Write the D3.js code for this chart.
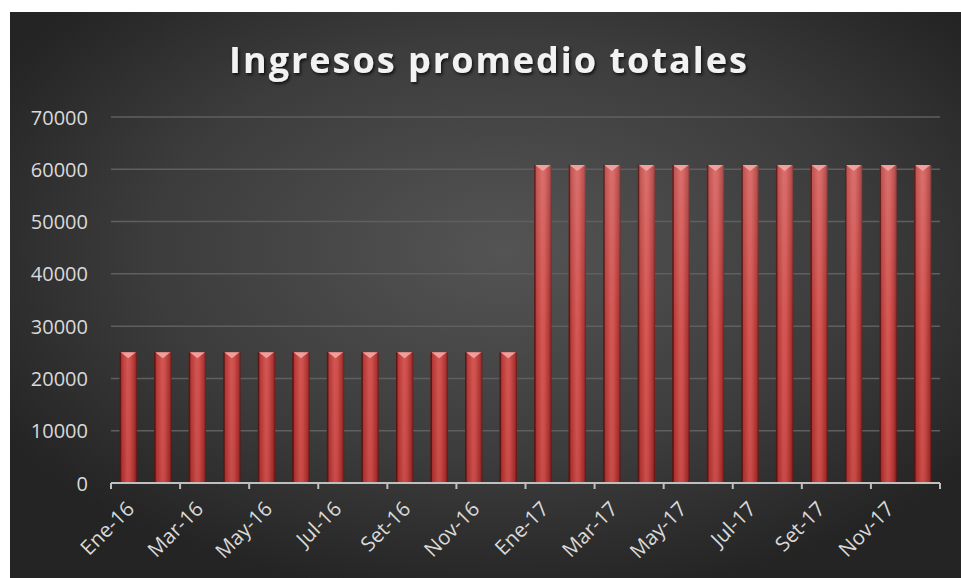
<!DOCTYPE html>
<html>
<head>
<meta charset="utf-8">
<script src="https://cdn.jsdelivr.net/npm/d3@7"></script>
<style>
  html, body { margin: 0; padding: 0; background: #ffffff; }
  svg { display: block; }
</style>
</head>
<body>
<svg id="chart" width="961" height="578"></svg>
<script>
const titleText = "Ingresos promedio totales";
const categories = ["Ene-16","Feb-16","Mar-16","Abr-16","May-16","Jun-16","Jul-16","Ago-16","Set-16","Oct-16","Nov-16","Dic-16",
                    "Ene-17","Feb-17","Mar-17","Abr-17","May-17","Jun-17","Jul-17","Ago-17","Set-17","Oct-17","Nov-17","Dic-17"];
const values = [25000,25000,25000,25000,25000,25000,25000,25000,25000,25000,25000,25000,
                60800,60800,60800,60800,60800,60800,60800,60800,60800,60800,60800,60800];
const yTicks = [0,10000,20000,30000,40000,50000,60000,70000];

const svg = d3.select("#chart");
const W = 961, H = 578;
const frame = {x: 10, y: 12, w: W - 10, h: H - 12};
const m = {left: 111, right: 940, top: 117, bottom: 483};

const defs = svg.append("defs");
const bg = defs.append("radialGradient").attr("id","bg")
  .attr("cx","0.52").attr("cy","0.42").attr("r","0.62");
bg.append("stop").attr("offset","0%").attr("stop-color","#545454");
bg.append("stop").attr("offset","60%").attr("stop-color","#3c3c3c");
bg.append("stop").attr("offset","100%").attr("stop-color","#242424");

const barG = defs.append("linearGradient").attr("id","barH").attr("x1","0").attr("x2","1").attr("y1","0").attr("y2","0");
[["0%","#6e1a19"],["12%","#b3322f"],["45%","#d2504c"],["60%","#cf4b47"],["88%","#a92d2b"],["100%","#5e1514"]]
  .forEach(([o,c]) => barG.append("stop").attr("offset",o).attr("stop-color",c));

const barV = defs.append("linearGradient").attr("id","barV").attr("gradientUnits","userSpaceOnUse")
  .attr("x1",0).attr("x2",0).attr("y1",m.top).attr("y2",m.bottom);
barV.append("stop").attr("offset","0%").attr("stop-color","#ffffff").attr("stop-opacity",0.22);
barV.append("stop").attr("offset","60%").attr("stop-color","#ffffff").attr("stop-opacity",0.04);
barV.append("stop").attr("offset","100%").attr("stop-color","#000000").attr("stop-opacity",0.05);

const sh = defs.append("filter").attr("id","tshadow").attr("x","-10%").attr("y","-30%").attr("width","120%").attr("height","160%");
sh.append("feDropShadow").attr("dx",1.5).attr("dy",2).attr("stdDeviation",1.5).attr("flood-color","#000").attr("flood-opacity",0.7);

svg.append("rect").attr("x",frame.x).attr("y",frame.y).attr("width",frame.w).attr("height",frame.h).attr("fill","url(#bg)");

const x = d3.scaleBand().domain(categories).range([m.left, m.right]).paddingInner(0.5).paddingOuter(0.25);
const y = d3.scaleLinear().domain([0,70000]).range([m.bottom, m.top]);

// gridlines
svg.append("g").selectAll("line").data(yTicks.filter(d => d > 0)).join("line")
  .attr("x1", m.left).attr("x2", m.right)
  .attr("y1", d => y(d)).attr("y2", d => y(d))
  .attr("stroke","#5f5f5f").attr("stroke-width",1.5);

// y axis labels
const yAxis = d3.axisLeft(y).tickValues(yTicks).tickFormat(d3.format("d")).tickSize(0).tickPadding(0);
const yg = svg.append("g").attr("transform", `translate(${88},0)`).call(yAxis);
yg.select(".domain").remove();
yg.selectAll("text").attr("fill","#d9d9d9").style("font-family","'Open Sans', sans-serif").style("font-size","20px").attr("dy","0.35em");

// bars
const bars = svg.append("g");
const bw = x.bandwidth();
bars.selectAll("rect.b").data(values).join("rect").attr("class","b")
  .attr("x",(d,i) => x(categories[i])).attr("y", d => y(d))
  .attr("width", bw).attr("height", d => y(0) - y(d))
  .attr("fill","url(#barH)");
bars.selectAll("rect.v").data(values).join("rect").attr("class","v")
  .attr("x",(d,i) => x(categories[i])).attr("y", d => y(d))
  .attr("width", bw).attr("height", d => y(0) - y(d))
  .attr("fill","url(#barV)");
// bevel top
bars.selectAll("path.t").data(values).join("path").attr("class","t")
  .attr("d",(d,i) => {
    const x0 = x(categories[i]), y0 = y(d);
    return `M${x0+1},${y0}L${x0+bw-1},${y0}L${x0+bw/2},${y0+6}Z`;
  })
  .attr("fill","#f3a7a4").attr("opacity",0.9);
bars.selectAll("path.l").data(values).join("path").attr("class","l")
  .attr("d",(d,i) => {
    const x0 = x(categories[i]), y0 = y(d);
    return `M${x0},${y0}L${x0+1.5},${y0}L${x0+1.5},${y(0)}L${x0},${y(0)}Z`;
  })
  .attr("fill","#4a0f0e").attr("opacity",0.7);

// x axis
const ax = svg.append("g").attr("transform",`translate(0,${m.bottom})`);
ax.append("line").attr("x1",m.left).attr("x2",m.right).attr("y1",0).attr("y2",0)
  .attr("stroke","#bfbfbf").attr("stroke-width",2);
const step = x.step();
const tickPos = d3.range(0, categories.length + 1, 2).map(i => m.left + i * step);
ax.selectAll("line.tk").data(tickPos).join("line").attr("class","tk")
  .attr("x1",d=>d).attr("x2",d=>d).attr("y1",0).attr("y2",6)
  .attr("stroke","#bfbfbf").attr("stroke-width",2);

const labelCats = categories.filter((c,i) => i % 2 === 0);
ax.selectAll("text").data(labelCats).join("text")
  .attr("transform", d => `translate(${x(d) + bw/2 - 3},${17}) rotate(-45)`)
  .attr("text-anchor","end").attr("dy","0.7em")
  .attr("fill","#d9d9d9").style("font-family","'Open Sans', sans-serif").style("font-size","20.5px")
  .text(d => d);

// title
svg.append("text").attr("x", 489).attr("y", 73).attr("text-anchor","middle")
  .attr("fill","#f2f2f2").attr("filter","url(#tshadow)")
  .style("font-family","'Open Sans', sans-serif").style("font-weight","700").style("font-size","36px")
  .style("letter-spacing","2px")
  .text(titleText);
</script>
</body>
</html>
